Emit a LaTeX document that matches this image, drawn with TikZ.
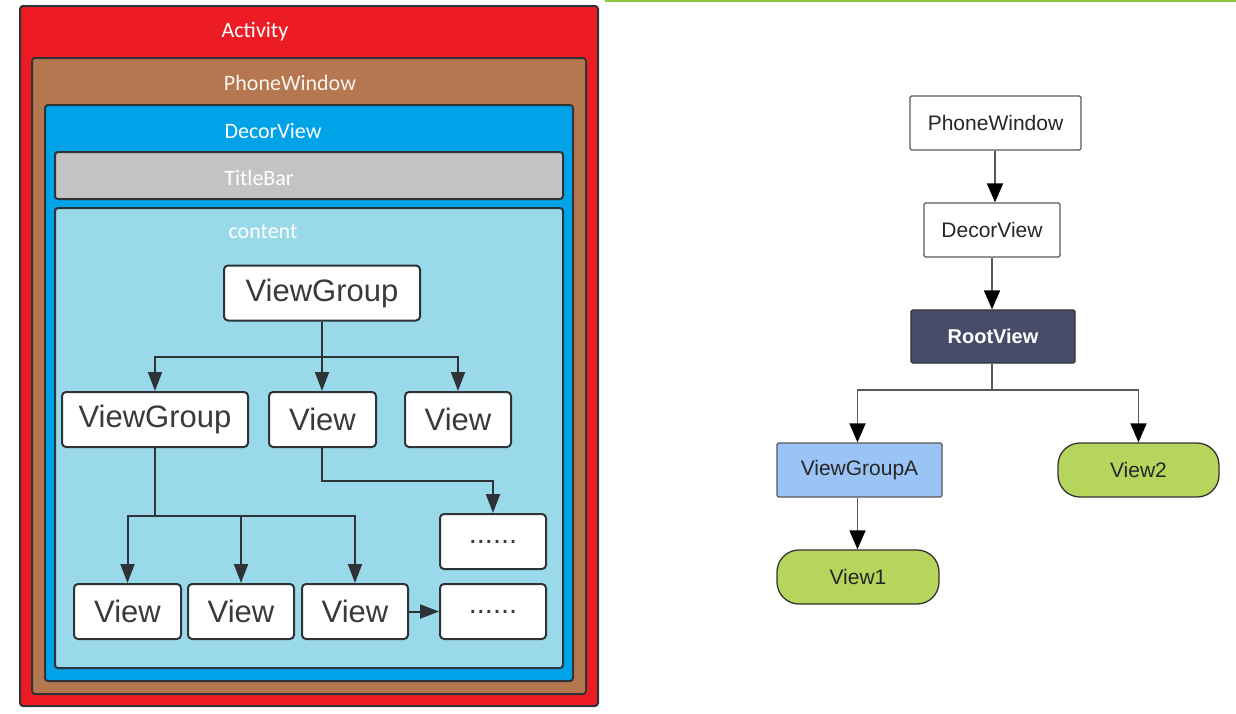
\documentclass[tikz,border=0pt]{standalone}
\usepackage{fontspec}
\setmainfont{Liberation Sans}
\newfontfamily\calfont{Carlito}
\usetikzlibrary{arrows.meta}
\definecolor{actred}{HTML}{ED1C24}
\definecolor{pwbrown}{HTML}{B5774F}
\definecolor{dvblue}{HTML}{00A2E8}
\definecolor{tbgray}{HTML}{C3C3C3}
\definecolor{ctblue}{HTML}{99D9EA}
\definecolor{edgedark}{HTML}{2E3338}
\definecolor{txtdark}{HTML}{3A3A3A}
\definecolor{rootslate}{HTML}{474C69}
\definecolor{vgablue}{HTML}{9CC3F5}
\definecolor{pillgreen}{HTML}{B6D55C}
\definecolor{topgreen}{HTML}{8CC63F}
\tikzset{
  layer/.style={draw=edgedark, line width=2pt, rounded corners=3pt, inner sep=0pt},
  lbl/.style={text=white, font=\calfont\fontsize{22}{26}\selectfont, inner sep=0pt},
  wbox/.style={draw=edgedark, fill=white, line width=2pt, rounded corners=4pt, inner sep=0pt,
    minimum height=55pt, text=txtdark, font=\fontsize{31}{35}\selectfont},
  larr/.style={draw=edgedark, line width=2pt, -{Triangle[length=19pt,width=14pt]}},
  lline/.style={draw=edgedark, line width=2pt},
  rbox/.style={draw=gray!70!black, line width=1.3pt, rounded corners=1.5pt, inner sep=0pt,
    minimum height=54pt, text=black!85, font=\fontsize{21}{24}\selectfont},
  pill/.style={rbox, draw=black!80, fill=pillgreen, rounded corners=22pt},
  rarr/.style={draw=black!65, line width=1.8pt, -{Triangle[length=19pt,width=16pt,fill=black,color=black]}},
  rline/.style={draw=black!65, line width=1.8pt}
}
\begin{document}
\begin{tikzpicture}[x=1pt,y=-1pt]
\useasboundingbox (0,0) rectangle (1236,713);
\fill[white] (0,0) rectangle (1236,713);
\draw[topgreen, line width=3pt] (605,0.5) -- (1236,0.5);

% ---------- left nested layers ----------
\node[layer, fill=actred, minimum width=578pt, minimum height=700pt] (act) at (309,356) {};
\node[lbl] (actl) at (255,32) {Activity};
\node[layer, fill=pwbrown, minimum width=554pt, minimum height=636pt] (pw0) at (309,376) {};
\node[lbl, text=white!92!brown] (pw0l) at (290,83) {PhoneWindow};
\node[layer, fill=dvblue, minimum width=528pt, minimum height=576pt] (dv0) at (309,393) {};
\node[lbl] (dv0l) at (273,131) {DecorView};
\node[layer, fill=tbgray, minimum width=508pt, minimum height=47pt] (tb) at (309,175.5) {};
\node[lbl] (tbl) at (259,178) {TitleBar};
\node[layer, fill=ctblue, minimum width=508pt, minimum height=460pt] (ct) at (309,438) {};
\node[lbl] (ctl) at (263,232) {content};

% boxes inside content
\node[wbox, minimum width=196pt] (vg0) at (322,293) {ViewGroup};
\node[wbox, minimum width=186pt] (vg1) at (155,419.5) {ViewGroup};
\node[wbox, minimum width=107pt] (v2) at (322.5,419.5) {View};
\node[wbox, minimum width=106pt] (v3) at (458,419.5) {View};
\node[wbox, minimum width=106pt, font=\fontsize{29}{33}\selectfont] (d1) at (493,541.5) {......};
\node[wbox, minimum width=107pt] (v4) at (127.5,611.5) {View};
\node[wbox, minimum width=106pt] (v5) at (241,611.5) {View};
\node[wbox, minimum width=106pt] (v6) at (355,611.5) {View};
\node[wbox, minimum width=106pt, font=\fontsize{29}{33}\selectfont] (d2) at (493,611.5) {......};

\coordinate (b1) at (322,357);
\draw[lline] (vg0.south) -- (b1);
\draw[larr] (b1) -| (vg1.north);
\draw[larr] (b1) -- (b1 |- v2.north);
\draw[larr] (b1) -| (v3.north);

\coordinate (b2) at (155,516);
\draw[lline] (vg1.south) -- (b2);
\draw[larr] (b2) -| (v4.north);
\draw[larr] (b2) -| (v5.north);
\draw[larr] (b2) -| (v6.north);

\coordinate (b4) at (322,481);
\draw[larr] (v2.south -| b4) -- (b4) -| (d1.north);
\draw[larr] (v6.east) -- (d2.west);

% ---------- right tree ----------
\node[rbox, fill=white, minimum width=171pt] (pw) at (995.5,123) {PhoneWindow};
\node[rbox, fill=white, minimum width=136pt] (dv) at (992,230) {DecorView};
\node[rbox, draw=black!80, fill=rootslate, minimum width=164pt, minimum height=53pt, text=white,
  font=\bfseries\fontsize{20}{23}\selectfont] (rv) at (993,336.5) {RootView};
\node[rbox, fill=vgablue, minimum width=165pt] (vga) at (859.5,470) {ViewGroupA};
\node[pill, minimum width=161pt] (vw2) at (1138.5,470) {View2};
\node[pill, minimum width=162pt] (vw1) at (858,577) {View1};

\draw[rarr] (pw.south -| 995,0) -- (995,0 |- dv.north);
\draw[rarr] (dv.south -| 992,0) -- (992,0 |- rv.north);
\coordinate (b3) at (992,390);
\draw[rline] (rv.south -| b3) -- (b3);
\draw[rarr] (b3) -| (857.5,0 |- vga.north);
\draw[rarr] (b3) -| (vw2.north);
\draw[rarr] (vga.south -| 857.5,0) -- (857.5,0 |- vw1.north);
\end{tikzpicture}
\end{document}
